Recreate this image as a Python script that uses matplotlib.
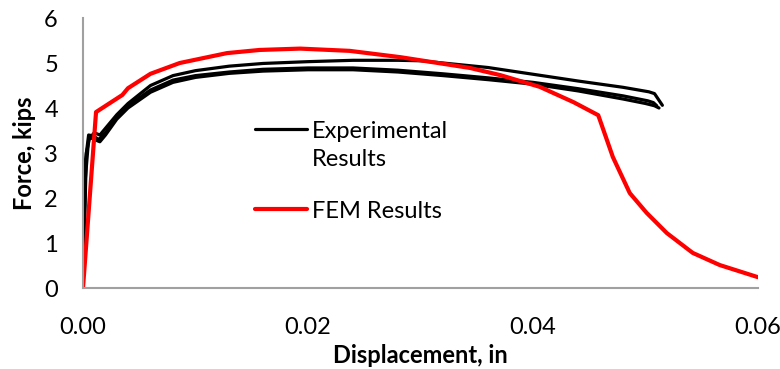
import matplotlib
matplotlib.use("Agg")
import matplotlib.pyplot as plt

plt.rcParams["font.family"] = ["Lato", "DejaVu Sans"]

# Experimental load-displacement records (three specimens)
exp1_disp = [0, 0.0002, 0.0005, 0.001, 0.0015, 0.002, 0.003, 0.004, 0.006, 0.008,
             0.010, 0.013, 0.016, 0.020, 0.024, 0.028, 0.030, 0.032, 0.036, 0.040,
             0.044, 0.048, 0.0503, 0.0508, 0.0515]
exp1_force = [0, 2.4, 3.3, 3.45, 3.4, 3.55, 3.85, 4.1, 4.5, 4.72,
              4.83, 4.93, 4.99, 5.03, 5.06, 5.06, 5.05, 5.0, 4.9, 4.75,
              4.6, 4.46, 4.36, 4.32, 4.06]

exp2_disp = [0, 0.0003, 0.0006, 0.001, 0.0015, 0.002, 0.003, 0.004, 0.006, 0.008,
             0.010, 0.013, 0.016, 0.020, 0.024, 0.028, 0.032, 0.036, 0.040, 0.044,
             0.048, 0.050, 0.0508, 0.0512]
exp2_force = [0, 3.0, 3.35, 3.3, 3.25, 3.4, 3.75, 4.0, 4.35, 4.57,
              4.68, 4.77, 4.82, 4.85, 4.85, 4.8, 4.72, 4.63, 4.53, 4.38,
              4.2, 4.1, 4.05, 4.0]

exp3_disp = [0, 0.0002, 0.0005, 0.0009, 0.0014, 0.002, 0.003, 0.004, 0.006, 0.008,
             0.010, 0.013, 0.016, 0.020, 0.024, 0.028, 0.032, 0.036, 0.040, 0.044,
             0.048, 0.0502, 0.0507, 0.0510]
exp3_force = [0, 2.8, 3.4, 3.38, 3.3, 3.45, 3.8, 4.05, 4.4, 4.62,
              4.72, 4.8, 4.86, 4.89, 4.89, 4.84, 4.76, 4.67, 4.57, 4.43,
              4.27, 4.16, 4.12, 4.05]

# Finite element prediction
fem_disp = [0, 0.00116, 0.0035, 0.004, 0.006, 0.0086, 0.0128, 0.0157, 0.0193,
            0.0237, 0.0282, 0.0344, 0.0371, 0.0406, 0.0436, 0.0458, 0.0471,
            0.0486, 0.0501, 0.0519, 0.0542, 0.0566, 0.0600]
fem_force = [0, 3.91, 4.29, 4.44, 4.76, 5.0, 5.22, 5.29, 5.32,
             5.27, 5.13, 4.89, 4.73, 4.47, 4.13, 3.84, 2.91,
             2.11, 1.67, 1.22, 0.78, 0.51, 0.24]

x_ticks = [0.00, 0.02, 0.04, 0.06]
y_ticks = [0, 1, 2, 3, 4, 5, 6]

fig = plt.figure(figsize=(7.8, 3.69), dpi=100)
ax = fig.add_axes([0.1064, 0.2195, 0.8654, 0.7317])

line_kw = dict(solid_joinstyle="round", solid_capstyle="round")
ax.plot(exp1_disp, exp1_force, color="black", lw=2.3, label="Experimental\nResults", **line_kw)
ax.plot(exp2_disp, exp2_force, color="black", lw=2.3, **line_kw)
ax.plot(exp3_disp, exp3_force, color="black", lw=2.3, **line_kw)
ax.plot(fem_disp, fem_force, color="#ff0000", lw=3.0, label="FEM Results", **line_kw)

ax.set_xlim(0, 0.06)
ax.set_ylim(0, 6)
ax.set_xticks(x_ticks)
ax.set_xticklabels([f"{v:.2f}" for v in x_ticks])
ax.set_yticks(y_ticks)
ax.tick_params(axis="both", length=0, labelsize=17, colors="black")
ax.tick_params(axis="x", pad=21)
ax.tick_params(axis="y", pad=18)

for side in ["top", "right"]:
    ax.spines[side].set_visible(False)
for side in ["left", "bottom"]:
    ax.spines[side].set_color("#a0a0a0")
    ax.spines[side].set_linewidth(1.5)

ax.set_xlabel("Displacement, in", fontsize=17, fontweight="bold", labelpad=4)
ax.set_ylabel("Force, kips", fontsize=17, fontweight="bold", labelpad=6)

leg = ax.legend(loc="upper left", bbox_to_anchor=(0.255, 0.618), frameon=False,
                fontsize=17, handlelength=2.2, handletextpad=0.2,
                labelspacing=1.3, borderpad=0, borderaxespad=0)
for t in leg.get_texts():
    t.set_linespacing(1.4)
# put the black key beside the first text line
h = leg.legend_handles[0]
h.set_ydata([y + 12 for y in h.get_ydata()])

fig.savefig("out.png", dpi=100)
